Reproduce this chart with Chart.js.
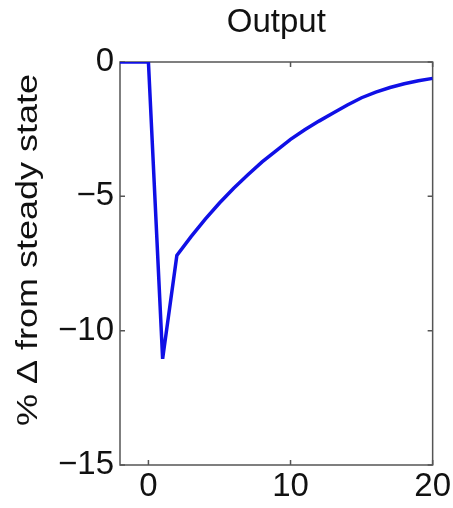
<!DOCTYPE html>
<html>
<head>
<meta charset="utf-8">
<script src="https://cdn.jsdelivr.net/npm/chart.js@4"></script>
<style>
  html, body { margin: 0; padding: 0; background: #fff; }
  #wrap { width: 453px; height: 508px; }
</style>
</head>
<body>
<div id="wrap"><canvas id="chartOutput" width="453" height="508"></canvas></div>
<script>
// impulse response
const periods = [-2, -1, 0, 1, 2, 3, 4, 5, 6, 7, 8, 9, 10, 11, 12, 13, 14, 15, 16, 17, 18, 19, 20];
const output = [0, 0, 0, -11.05, -7.2, -6.5, -5.85, -5.25, -4.7, -4.2, -3.72, -3.3, -2.88,
  -2.52, -2.2, -1.9, -1.6, -1.33, -1.12, -0.95, -0.81, -0.7, -0.61];
const xTicks = [0, 10, 20];
const yTicks = [-15, -10, -5, 0];
const chartTitle = 'Output';
const yTitle = '% \u0394 from steady state';

const FONT = '"Liberation Sans", Arial, Helvetica, sans-serif';

// matlab style box with inward ticks + titles
const boxPlugin = {
  id: 'matlabBox',
  beforeDatasetsDraw(chart) {
    const { ctx, chartArea: a, scales } = chart;
    const x = scales.x, y = scales.y;
    ctx.save();
    ctx.strokeStyle = '#555';
    ctx.lineWidth = 1.5;
    ctx.strokeRect(a.left, a.top, a.right - a.left, a.bottom - a.top);
    ctx.beginPath();
    xTicks.forEach(v => {
      const px = x.getPixelForValue(v);
      ctx.moveTo(px, a.bottom); ctx.lineTo(px, a.bottom - 5);
      ctx.moveTo(px, a.top); ctx.lineTo(px, a.top + 5);
    });
    yTicks.forEach(v => {
      const py = y.getPixelForValue(v);
      ctx.moveTo(a.left, py); ctx.lineTo(a.left + 5, py);
      ctx.moveTo(a.right, py); ctx.lineTo(a.right - 5, py);
    });
    ctx.stroke();

    ctx.fillStyle = '#111';
    ctx.textAlign = 'center';
    ctx.textBaseline = 'middle';
    ctx.font = '33px ' + FONT;
    ctx.fillText(chartTitle, (a.left + a.right) / 2, 23);

    // y label is a bit narrow in the original
    ctx.font = '36px ' + FONT;
    ctx.translate(29, 250);
    ctx.rotate(-Math.PI / 2);
    ctx.scale(1, 0.84);
    ctx.fillText(yTitle, 0, 0);
    ctx.restore();
  }
};

function initChart() {
  const ctx = document.getElementById('chartOutput');
  new Chart(ctx, {
    type: 'line',
    data: {
      labels: periods,
      datasets: [{
        label: chartTitle,
        data: periods.map((p, i) => ({ x: p, y: output[i] })),
        borderColor: '#1010e6',
        borderWidth: 3.5,
        pointRadius: 0,
        tension: 0,
        fill: false
      }]
    },
    options: {
      responsive: false,
      animation: false,
      events: [],
      layout: { padding: { top: 62, right: 20, left: 0, bottom: 0 } },
      plugins: {
        legend: { display: false },
        tooltip: { enabled: false },
        title: { display: false }
      },
      scales: {
        x: {
          type: 'linear',
          min: -2,
          max: 20,
          afterBuildTicks: s => { s.ticks = xTicks.map(v => ({ value: v })); },
          afterFit: s => { s.height = 43; },
          grid: { display: false, drawTicks: false },
          border: { display: false },
          ticks: {
            autoSkip: false,
            maxRotation: 0,
            padding: 2,
            color: '#111',
            font: { family: FONT, size: 33 }
          }
        },
        y: {
          type: 'linear',
          min: -15,
          max: 0,
          afterBuildTicks: s => { s.ticks = yTicks.map(v => ({ value: v })); },
          afterFit: s => { s.width = 120; },
          grid: { display: false, drawTicks: false },
          border: { display: false },
          ticks: {
            autoSkip: false,
            padding: 6,
            color: '#111',
            font: { family: FONT, size: 33 },
            callback: v => v < 0 ? '\u2212' + Math.abs(v) : String(v)
          }
        }
      }
    },
    plugins: [boxPlugin]
  });
}

document.addEventListener('DOMContentLoaded', initChart);
</script>
</body>
</html>
